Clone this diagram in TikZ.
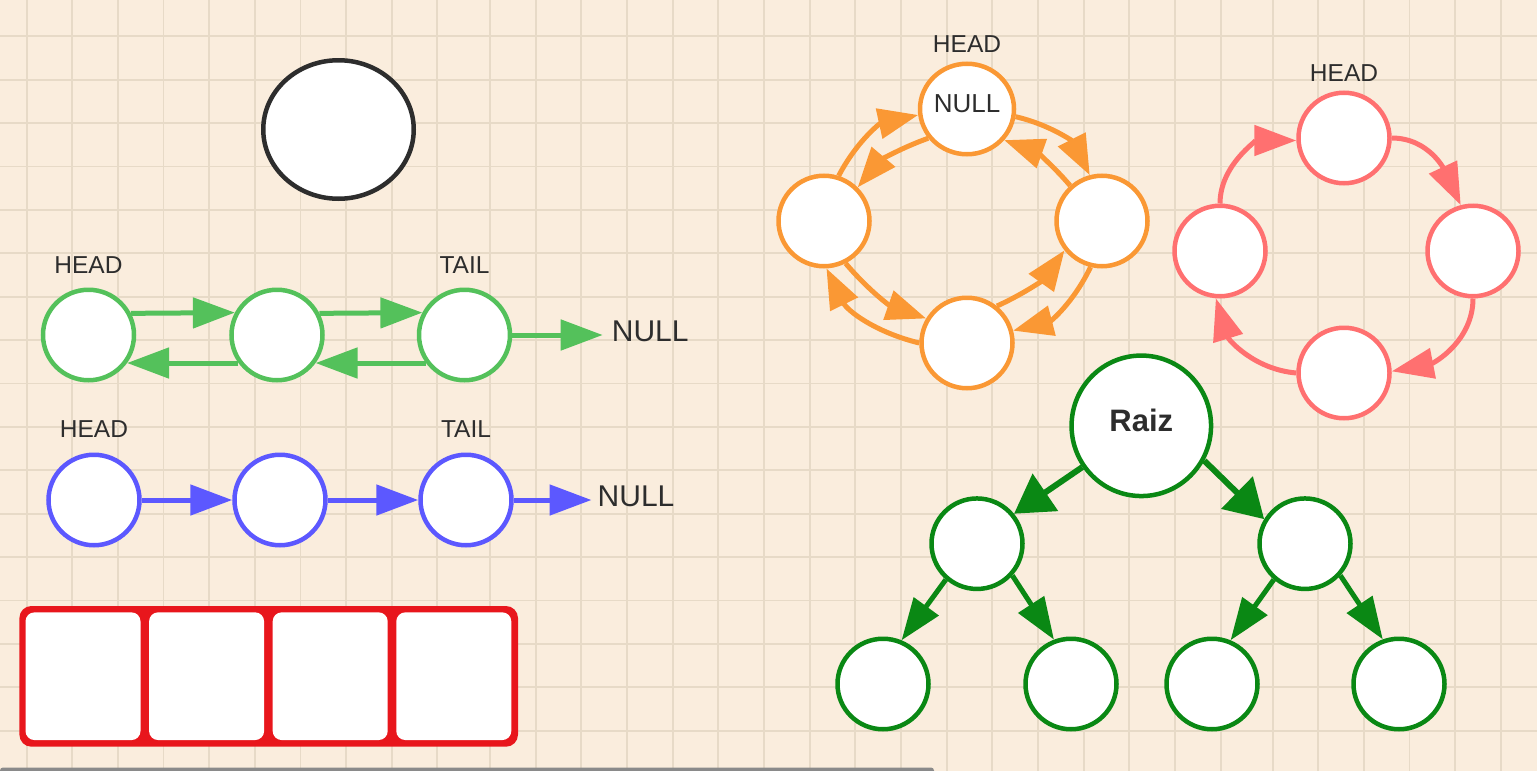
\documentclass[tikz,border=0pt]{standalone}
\usepackage{tikz}
\usetikzlibrary{shapes.geometric, arrows.meta, positioning}
\usepackage{xcolor}
\usepackage{fontspec}
\setmainfont{Liberation Sans}

\definecolor{paper}{RGB}{250,237,221}
\definecolor{gridc}{RGB}{231,218,199}
\definecolor{dllgreen}{RGB}{84,193,91}
\definecolor{sllblue}{RGB}{92,88,255}
\definecolor{arrred}{RGB}{232,22,28}
\definecolor{cdlorange}{RGB}{250,152,52}
\definecolor{cslpink}{RGB}{255,112,112}
\definecolor{treegreen}{RGB}{10,136,20}
\definecolor{inkgray}{RGB}{45,45,45}
\definecolor{barc}{RGB}{138,138,138}

\tikzset{
  gridline/.style={draw=gridc, line width=1.8pt},
  listnode/.style={ellipse, fill=white, line width=4.5pt, inner sep=0pt, minimum width=91pt, minimum height=90.5pt},
  headtag/.style={inner sep=0pt, text=inkgray, font=\fontsize{24.5}{24.5}\selectfont},
  nulltag/.style={inner ysep=0pt, text=inkgray, font=\fontsize{30}{30}\selectfont},
  ptr/.style={line width=5pt, -{Triangle[length=42pt,width=30pt]}},
  ringptr/.style={line width=5pt, -{Triangle[length=40pt,width=30pt]}},
  rootptr/.style={line width=6pt, -{Triangle[length=38pt,width=44pt]}},
  cell/.style={fill=white, rounded corners=9pt, inner sep=0pt, minimum width=115pt, minimum height=127.7pt},
}

\begin{document}
\begin{tikzpicture}[x=1pt, y=1pt]
\fill[paper] (0,0) rectangle (1537,-771);
\useasboundingbox (0,0) rectangle (1537,-771);
\foreach \k in {0,...,9} \draw[gridline] ({26.7+45.62*\k},0) -- ++(0,-771);
\foreach \k in {0,...,16} \draw[gridline] ({490+45.67*\k},0) -- ++(0,-771);
\foreach \k in {0,...,5} \draw[gridline] ({1272.7+45.6*\k},0) -- ++(0,-771);
\foreach \k in {0,...,16} \draw[gridline] (0,{-36.3-43.4*\k}) -- ++(1537,0);

\node[ellipse, draw=inkgray, fill=white, line width=4.5pt, minimum width=150.5pt, minimum height=138.5pt] (solo) at (338.5,-129.5) {};

\node[listnode, draw=dllgreen] (g1) at (88.5,-335) {};
\node[listnode, draw=dllgreen] (g2) at (277,-335) {};
\node[listnode, draw=dllgreen] (g3) at (464.5,-335) {};
\node[headtag, above=14pt of g1] (ghead) {HEAD};
\node[headtag, above=14pt of g3] (gtail) {TAIL};
\node[nulltag, inner xsep=9pt, anchor=west] (gnull) at (602.7,-331) {NULL};
\draw[ptr, dllgreen] (g1.27.5) -- (g2.152.5);
\draw[ptr, dllgreen] (g2.27.5) -- (g3.152.5);
\draw[ptr, dllgreen] (g2.216) -- (g1.324);
\draw[ptr, dllgreen] (g3.216) -- (g2.324);
\draw[ptr, dllgreen] (g3.east) -- (g3.east -| gnull.west);

\node[listnode, draw=sllblue] (b1) at (94,-500) {};
\node[listnode, draw=sllblue] (b2) at (280,-500) {};
\node[listnode, draw=sllblue] (b3) at (466,-500) {};
\node[headtag, above=15pt of b1] (bhead) {HEAD};
\node[headtag, above=15pt of b3] (btail) {TAIL};
\node[nulltag, inner xsep=6pt, anchor=west] (bnull) at (591.5,-496) {NULL};
\draw[ptr, sllblue] (b1) -- (b2);
\draw[ptr, sllblue] (b2) -- (b3);
\draw[ptr, sllblue] (b3.east) -- (b3.east -| bnull.west);

\node[fill=arrred, rounded corners=12pt, inner sep=0pt, minimum width=498.6pt, minimum height=140.7pt] (arr) at (268.7,-676.35) {};
\foreach \i in {0,...,3}
  \node[cell] (cell\i) at ({83+123.6*\i},-676.2) {};

\node[listnode, draw=cdlorange, font=\fontsize{26}{26}\selectfont, text=inkgray] (o1) at (967,-109) {\raisebox{10pt}{NULL}};
\node[listnode, draw=cdlorange] (o2) at (1102,-221) {};
\node[listnode, draw=cdlorange] (o3) at (967,-343) {};
\node[listnode, draw=cdlorange] (o4) at (824,-221) {};
\node[headtag, above=8.5pt of o1] (ohead) {HEAD};
\draw[ringptr, cdlorange] (o4.72) to[bend left=25] (o1.187);
\draw[ringptr, cdlorange] (o1.217) to[bend right=15] (o4.45);
\draw[ringptr, cdlorange] (o1.351) to[bend left=25] (o2.105);
\draw[ringptr, cdlorange] (o2.132) to[bend right=15] (o1.320);
\draw[ringptr, cdlorange] (o2.256) to[bend left=25] (o3.15);
\draw[ringptr, cdlorange] (o3.51) to[bend right=15] (o2.218);
\draw[ringptr, cdlorange] (o3.180) to[bend left=25] (o4.273);
\draw[ringptr, cdlorange] (o4.297) to[bend right=15] (o3.149);

\node[listnode, draw=cslpink] (p1) at (1344,-138) {};
\node[listnode, draw=cslpink] (p2) at (1473,-251) {};
\node[listnode, draw=cslpink] (p3) at (1344,-373) {};
\node[listnode, draw=cslpink] (p4) at (1220,-251) {};
\node[headtag, above=9pt of p1] (phead) {HEAD};
\draw[ptr, cslpink] (p4.90) to[out=90, in=180] (p1.183);
\draw[ptr, cslpink] (p1.0) to[out=0, in=115] (p2.105);
\draw[ptr, cslpink] (p2.270) to[out=270, in=11] (p3.2);
\draw[ptr, cslpink] (p3.180) to[out=175, in=287] (p4.265);

\node[listnode, draw=treegreen, minimum width=139.5pt, minimum height=140.5pt, text=inkgray, font=\bfseries\fontsize{31}{31}\selectfont] (root) at (1141.3,-425.8) {\raisebox{12pt}{Raiz}};
\node[listnode, draw=treegreen] (tl) at (977,-543.7) {};
\node[listnode, draw=treegreen] (tr) at (1305,-543.7) {};
\node[listnode, draw=treegreen] (tll) at (883,-684) {};
\node[listnode, draw=treegreen] (tlr) at (1071,-684) {};
\node[listnode, draw=treegreen] (trl) at (1212,-684) {};
\node[listnode, draw=treegreen] (trr) at (1399,-684) {};
\draw[rootptr, treegreen] (root.215) -- (tl.39);
\draw[rootptr, treegreen] (root.331) -- (tr.149);
\draw[ptr, treegreen] (tl.229) -- (tll.67);
\draw[ptr, treegreen] (tl.318) -- (tlr.111);
\draw[ptr, treegreen] (tr.229) -- (trl.67);
\draw[ptr, treegreen] (tr.318) -- (trr.110);

\fill[barc, rounded corners=3pt] (0,-767.5) rectangle (934,-778);
\end{tikzpicture}
\end{document}
